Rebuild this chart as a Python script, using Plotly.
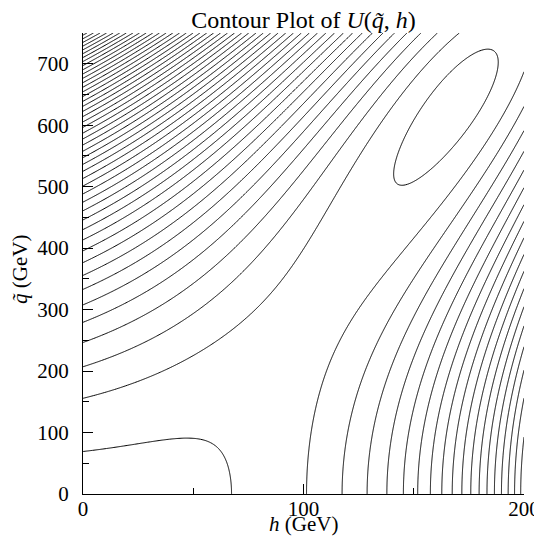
import numpy as np
import plotly.graph_objects as go

# ---- data: potential U(q~, h) as a polynomial in h/100 and q/100 (coefficients) ----
term_names = ["h2", "h3", "h4", "q2", "q4", "hq2", "h2q2", "const"]
term_coefs = [-0.02477043, 0.03319334, 1.164297, 0.4967815, 0.00597285, -0.5997135, 0.0121907, -0.2387769]

h_values = np.linspace(0, 200, 401)      # h (GeV)
q_values = np.linspace(0, 750, 751)      # q~ (GeV)
level_start, level_end, level_step = 0, 90, 1

x_ticks = [0, 100, 200]
x_minor = [50, 150]
y_ticks = [0, 100, 200, 300, 400, 500, 600, 700]
y_minor = [50, 150, 250, 350, 450, 550, 650, 750]

# ---- grid ----
HS, QS = np.meshgrid(h_values / 100, q_values / 100)
terms = {"h2": HS**2, "h3": HS**3, "h4": HS**4, "q2": QS**2, "q4": QS**4,
         "hq2": HS * QS**2, "h2q2": HS**2 * QS**2, "const": np.ones_like(HS)}
U = sum(c * terms[name] for name, c in zip(term_names, term_coefs))

F = "Liberation Serif"
W, Hgt = 534, 528          # page adds an 8px body margin; keep page within the window (no scrollbars)
L, T = 75, 25
PW, PH = 441, 461

fig = go.Figure(go.Contour(
    x=h_values, y=q_values, z=U,
    contours=dict(start=level_start, end=level_end, size=level_step, coloring="lines"),
    colorscale=[[0, "black"], [1, "black"]], showscale=False,
    line=dict(width=1, smoothing=1), hoverinfo="skip"))

fig.update_layout(
    width=W, height=Hgt,
    margin=dict(l=L, r=W - L - PW, t=T, b=Hgt - T - PH, autoexpand=False),
    plot_bgcolor="white", paper_bgcolor="white", showlegend=False,
    font=dict(family=F, size=21, color="black"),
    title=dict(text="Contour Plot of <i>U</i>(<i>q̃</i>, <i>h</i>)",
               x=(L + PW / 2) / W, xanchor="center",
               y=1 - 12 / Hgt, yanchor="middle", yref="container",
               font=dict(size=24)))

fig.update_xaxes(range=[0, 200], tickvals=x_ticks, ticks="inside", ticklen=10, tickwidth=1, tickcolor="black",
                 showline=True, linecolor="black", linewidth=1, showgrid=False, zeroline=False, mirror=False,
                 minor=dict(tickvals=x_minor, ticks="inside", ticklen=6, tickwidth=1, tickcolor="black"),
                 ticklabelstandoff=-4, automargin=False)
fig.update_yaxes(range=[0, 750], tickvals=y_ticks, ticks="inside", ticklen=10, tickwidth=1, tickcolor="black",
                 showline=True, linecolor="black", linewidth=1, showgrid=False, zeroline=False, mirror=False,
                 minor=dict(tickvals=y_minor, ticks="inside", ticklen=6, tickwidth=1, tickcolor="black"),
                 ticklabelstandoff=9, automargin=False)

fig.add_annotation(text="<i>h</i> (GeV)", xref="paper", yref="paper", x=0.5, y=(486 - 516) / PH,
                   xanchor="center", yanchor="middle", showarrow=False, font=dict(size=21))
fig.add_annotation(text="<i>q̃</i> (GeV)", xref="paper", yref="paper", x=-63 / PW, y=(494 - 270) / PH,
                   xanchor="center", yanchor="middle", textangle=-90, showarrow=False, font=dict(size=21))

fig.write_html("out.html")
